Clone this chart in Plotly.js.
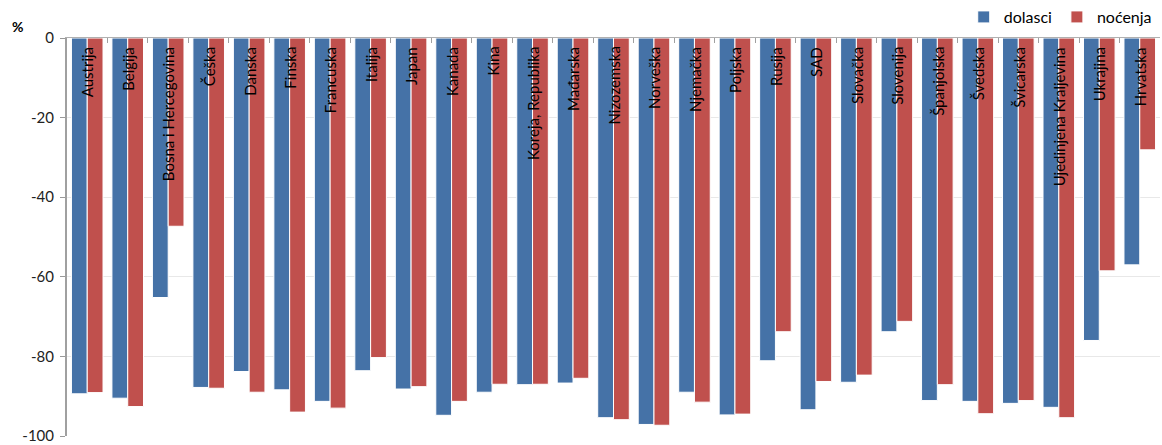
<!DOCTYPE html>
<html><head><meta charset="utf-8">
<script src="https://cdn.plot.ly/plotly-3.0.1.min.js"></script>
<style>html,body{margin:0;padding:0;background:#fff}#chart{width:1162px;height:445px}</style>
</head><body><div id="chart"></div>
<script>
const categories = ["Austrija","Belgija","Bosna i Hercegovina","Češka","Danska","Finska","Francuska","Italija","Japan","Kanada","Kina","Koreja, Republika","Mađarska","Nizozemska","Norveška","Njemačka","Poljska","Rusija","SAD","Slovačka","Slovenija","Španjolska","Švedska","Švicarska","Ujedinjena Kraljevina","Ukrajina","Hrvatska"];
const dolasci = [-89.4,-90.5,-65.2,-87.8,-83.8,-88.4,-91.3,-83.6,-88.2,-94.8,-89.0,-87.1,-86.7,-95.4,-97.1,-89.0,-94.7,-81.1,-93.4,-86.5,-73.8,-91.1,-91.3,-91.8,-92.8,-76.0,-57.0];
const nocenja = [-89.1,-92.6,-47.3,-88.0,-89.0,-94.0,-93.0,-80.3,-87.6,-91.3,-87.0,-87.0,-85.5,-95.9,-97.3,-91.5,-94.5,-73.8,-86.3,-84.7,-71.2,-87.1,-94.4,-91.1,-95.4,-58.5,-28.1];
const yTicks = [0,-20,-40,-60,-80,-100];
const seriesNames = ["dolasci","noćenja"];

const FONT = "Lato, 'Open Sans', sans-serif";
const traces = [
  {type:'bar', name:seriesNames[0], x:categories, y:dolasci, marker:{color:'#4572A7', line:{color:'#ffffff', width:1}}, hoverinfo:'x+y'},
  {type:'bar', name:seriesNames[1], x:categories, y:nocenja, marker:{color:'#C0504D', line:{color:'#ffffff', width:1}}, hoverinfo:'x+y'}
];
const annotations = categories.map(c => ({
  x:c, y:0, xref:'x', yref:'y', text:c, showarrow:false, textangle:-90,
  xanchor:'center', yanchor:'top', yshift:-7,
  font:{family:FONT, size:15, color:'#000'}
}));
annotations.push({xref:'paper', yref:'paper', x:-0.052, y:1.03, xanchor:'left', yanchor:'middle', text:'<b>%</b>', showarrow:false, font:{family:FONT,size:14,color:'#000'}});

const layout = {
  width:1162, height:445,
  margin:{l:67, r:2, t:38, b:9, autoexpand:false},
  paper_bgcolor:'#fff', plot_bgcolor:'#fff',
  barmode:'group', bargap:0.22, bargroupgap:0,
  showlegend:true,
  legend:{orientation:'h', x:0.997, xanchor:'right', y:1.01, yanchor:'bottom', font:{family:FONT,size:16,color:'#000'}, traceorder:'normal', itemwidth:30},
  xaxis:{side:'top', showticklabels:false, ticks:'inside', tickson:'boundaries', ticklen:5, tickcolor:'#a0a0a0',
         showline:true, linecolor:'#b0b0b0', linewidth:1.5, showgrid:false, zeroline:false, fixedrange:true, automargin:false},
  yaxis:{range:[-100,0], tickvals:yTicks, ticktext:yTicks.map(String), ticks:'outside', ticklen:5, tickcolor:'#999',
         showline:true, linecolor:'#a0a0a0', linewidth:2, showgrid:true, gridcolor:'#e8e8e8', zeroline:false,
         tickfont:{family:FONT,size:15,color:'#222'}, ticklabelstandoff:3, ticklabeloverflow:'allow', fixedrange:true, automargin:false},
  annotations:annotations
};
Plotly.newPlot('chart', traces, layout, {displayModeBar:false, staticPlot:true});
</script></body></html>
